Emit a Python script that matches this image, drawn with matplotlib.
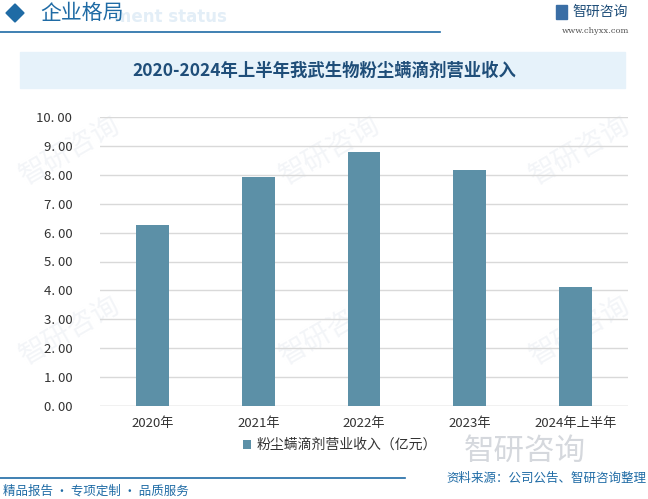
import matplotlib.pyplot as plt
from matplotlib.patches import Rectangle, Polygon

plt.rcParams['font.family'] = ['Noto Sans CJK SC', 'DejaVu Sans']

years = ['2020年', '2021年', '2022年', '2023年', '2024年上半年']
revenue = [6.27, 7.93, 8.79, 8.17, 4.12]
yticks = [0, 1, 2, 3, 4, 5, 6, 7, 8, 9, 10]
title = '2020-2024年上半年我武生物粉尘螨滴剂营业收入'
legend_label = '粉尘螨滴剂营业收入（亿元）'

W, H = 648, 499
fig = plt.figure(figsize=(6.48, 4.99), dpi=100)

def fx(x):
    return x / W

def fy(y):
    return 1 - y / H

# 页眉
fig.patches.append(Polygon([[fx(6), fy(13)], [fx(15), fy(4)], [fx(24), fy(13)], [fx(15), fy(22)]],
                           closed=True, transform=fig.transFigure, color='#1F6BA5'))
fig.text(fx(114), fy(17), 'ment status', fontsize=12, color='#E3EEF7',
         fontweight='bold', va='center', family='DejaVu Sans', zorder=-2)
fig.text(fx(40), fy(13), '企业格局', fontsize=15, color='#1F6BA5', va='center')
fig.add_artist(plt.Line2D([0, fx(440)], [fy(32), fy(32)], color='#1F6BA5', lw=1.2))
fig.text(fx(572), fy(12), '智研咨询', fontsize=10, color='#1F4E79', va='center')
fig.patches.append(Rectangle((fx(556), fy(19)), fx(11), 14 / H, transform=fig.transFigure,
                             color='#3A6EA5'))
fig.text(fx(596), fy(31), 'www.chyxx.com', fontsize=6, color='#555555', va='center', ha='center',
         family='DejaVu Serif')

# 标题栏
fig.patches.append(Rectangle((fx(20), fy(88)), fx(605), 36 / H, transform=fig.transFigure,
                             color='#E6F2FA', zorder=-1))
fig.text(fx(324), fy(71), title, fontsize=12.5, color='#1F4E79', ha='center', va='center',
         fontweight='bold')

# 水印
for (x, y) in [(70, 150), (330, 150), (580, 150), (70, 330), (330, 330), (580, 330)]:
    fig.text(fx(x), fy(y), '智研咨询', fontsize=20, color='#F3F5F8', rotation=30,
             ha='center', va='center', zorder=-3)

ax = fig.add_axes([fx(100), fy(406), fx(528), 289 / H])
ax.patch.set_alpha(0)
x = range(len(years))
ax.bar(x, revenue, width=0.31, color='#5C90A7', zorder=3, label=legend_label)
ax.set_xlim(-0.5, 4.5)
ax.set_ylim(0, 10)
ax.set_yticks(yticks)
ax.set_yticklabels([f'{v:.2f}'.replace('.', '. ') for v in yticks], fontsize=9.5, color='#333333')
ax.set_xticks(list(x))
ax.set_xticklabels(years, fontsize=9.5, color='#333333')
ax.tick_params(length=0, pad=8)
ax.tick_params(axis='y', pad=20)
ax.grid(axis='y', color='#D9D9D9', lw=1, zorder=0)
for s in ax.spines.values():
    s.set_visible(False)
ax.axhline(0, color='#D9D9D9', lw=1, zorder=1)

leg = ax.legend(loc='center', bbox_to_anchor=(fx(340), fy(445)), bbox_transform=fig.transFigure,
                frameon=False, fontsize=10, handlelength=0.6, handleheight=0.6, handletextpad=0.4)
for t in leg.get_texts():
    t.set_color('#333333')

# 页脚
fig.text(fx(525), fy(451), '智研咨询', fontsize=22, color='#D5D8DD', ha='center', va='center',
         zorder=-2)
fig.add_artist(plt.Line2D([0, fx(405)], [fy(478), fy(478)], color='#1F6BA5', lw=1.2))
fig.text(fx(3), fy(491), '精品报告 · 专项定制 · 品质服务', fontsize=9, color='#1F6BA5', va='center')
fig.text(fx(646), fy(478), '资料来源：公司公告、智研咨询整理', fontsize=9, color='#1F6BA5',
         va='center', ha='right')

fig.savefig('out.png', dpi=100)
